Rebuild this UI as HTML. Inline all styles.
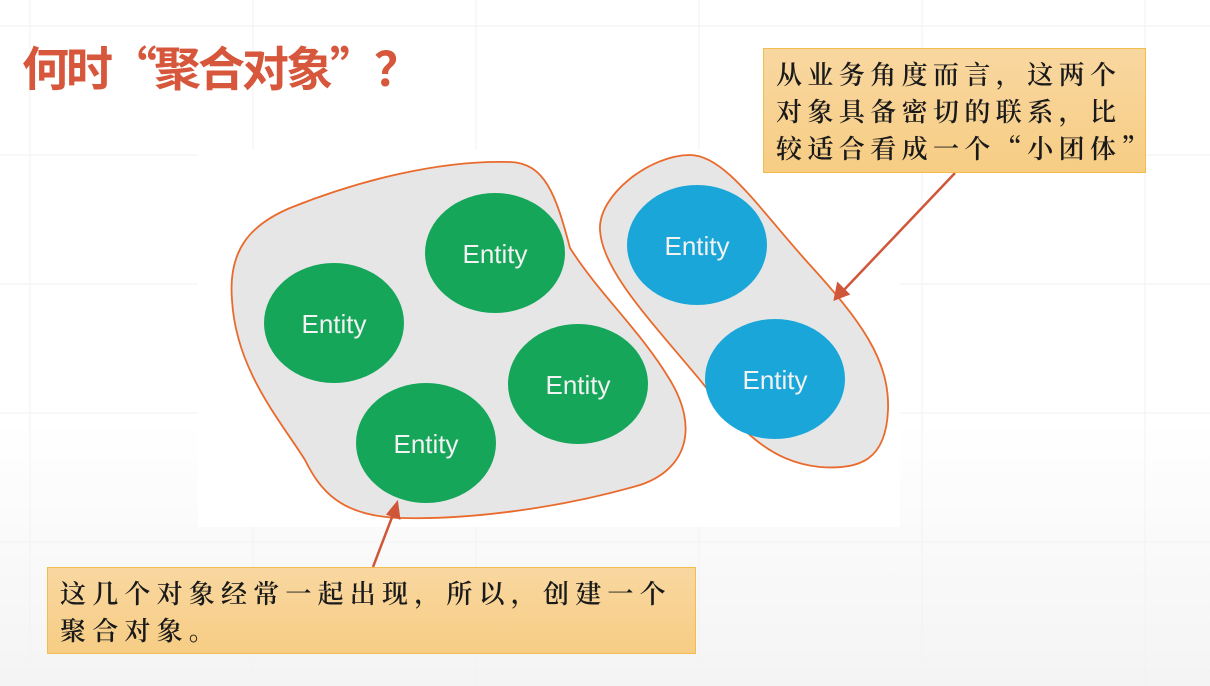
<!DOCTYPE html>
<html><head><meta charset="utf-8"><style>
html,body{margin:0;padding:0;}
body{width:1210px;height:686px;overflow:hidden;position:relative;background:linear-gradient(#fff 0,#fff 420px,#f4f4f4 686px);font-family:"Liberation Sans","Noto Sans CJK SC",sans-serif;}
.title{position:absolute;left:22px;top:36px;font-size:47px;font-weight:bold;color:#d6573b;letter-spacing:-3px;font-family:"Noto Sans CJK SC",sans-serif;line-height:60px;white-space:nowrap;}
.call{position:absolute;background:linear-gradient(#f8d7a0,#f7cd84);border:1.5px solid #f2bd4d;box-sizing:border-box;font-family:"Noto Serif CJK SC",serif;font-weight:600;color:#1a1a1a;font-size:26px;line-height:37px;white-space:nowrap;}
</style></head><body>
<svg width="1210" height="686" style="position:absolute;left:0;top:0">
<g stroke="#f2f2f2" stroke-width="1" fill="none">
<path d="M0 26H1210M0 155H1210M0 284H1210M0 413H1210M0 542H1210M0 671H1210"/>
<path d="M30 0V686M253 0V686M476 0V686M699 0V686M922 0V686M1145 0V686"/>
</g>
<rect x="198" y="150" width="702" height="377" fill="#fff"/>
<path d="M232,300 C228,250 250,225 290,208 C360,180 440,160 510,162 C545,163 556,195 570,248 C600,295 640,330 670,380 C700,430 685,470 640,485 C560,508 470,520 400,518 C340,516 320,490 305,460 C280,420 236,370 232,300 Z" fill="#e6e6e6" stroke="#e96a2c" stroke-width="1.8"/>
<path d="M600,230 C598,195 650,155 690,155 C725,155 760,210 810,265 C860,320 890,360 888,410 C886,460 860,470 820,467 C770,462 740,430 700,380 C650,320 602,270 600,230 Z" fill="#e6e6e6" stroke="#e96a2c" stroke-width="1.8"/>
<g fill="#15a65a"><ellipse cx="495" cy="253" rx="70" ry="60"/><ellipse cx="334" cy="323" rx="70" ry="60"/><ellipse cx="578" cy="384" rx="70" ry="60"/><ellipse cx="426" cy="443" rx="70" ry="60"/></g>
<g fill="#1ba6da"><ellipse cx="697" cy="245" rx="70" ry="60"/><ellipse cx="775" cy="379" rx="70" ry="60"/></g>
<g fill="#f2f2f2" font-size="26" font-family="Liberation Sans, DejaVu Sans, sans-serif" text-anchor="middle">
<text x="495" y="263">Entity</text><text x="334" y="333">Entity</text><text x="578" y="394">Entity</text><text x="426" y="453">Entity</text><text x="697" y="255">Entity</text><text x="775" y="389">Entity</text></g>
<g stroke="#d0563a" stroke-width="2.5" fill="#d0563a">
<line x1="955" y1="173" x2="842" y2="292"/><path d="M835,299 L838,284 L848,294 Z"/>
<line x1="373" y1="567" x2="394" y2="512"/><path d="M397,503 L399,518 L388,514 Z"/>
</g>
</svg>
<div class="title">何时“聚合对象”？</div>
<div class="call" style="left:763px;top:48px;width:383px;height:125px;padding:6px 0 0 12px;letter-spacing:5.4px;">从业务角度而言，这两个<br>对象具备密切的联系，比<br>较适合看成一个“小团体”</div>
<div class="call" style="left:47px;top:567px;width:649px;height:87px;padding:6px 0 0 12px;letter-spacing:6.2px;">这几个对象经常一起出现，所以，创建一个<br>聚合对象。</div>
</body></html>
